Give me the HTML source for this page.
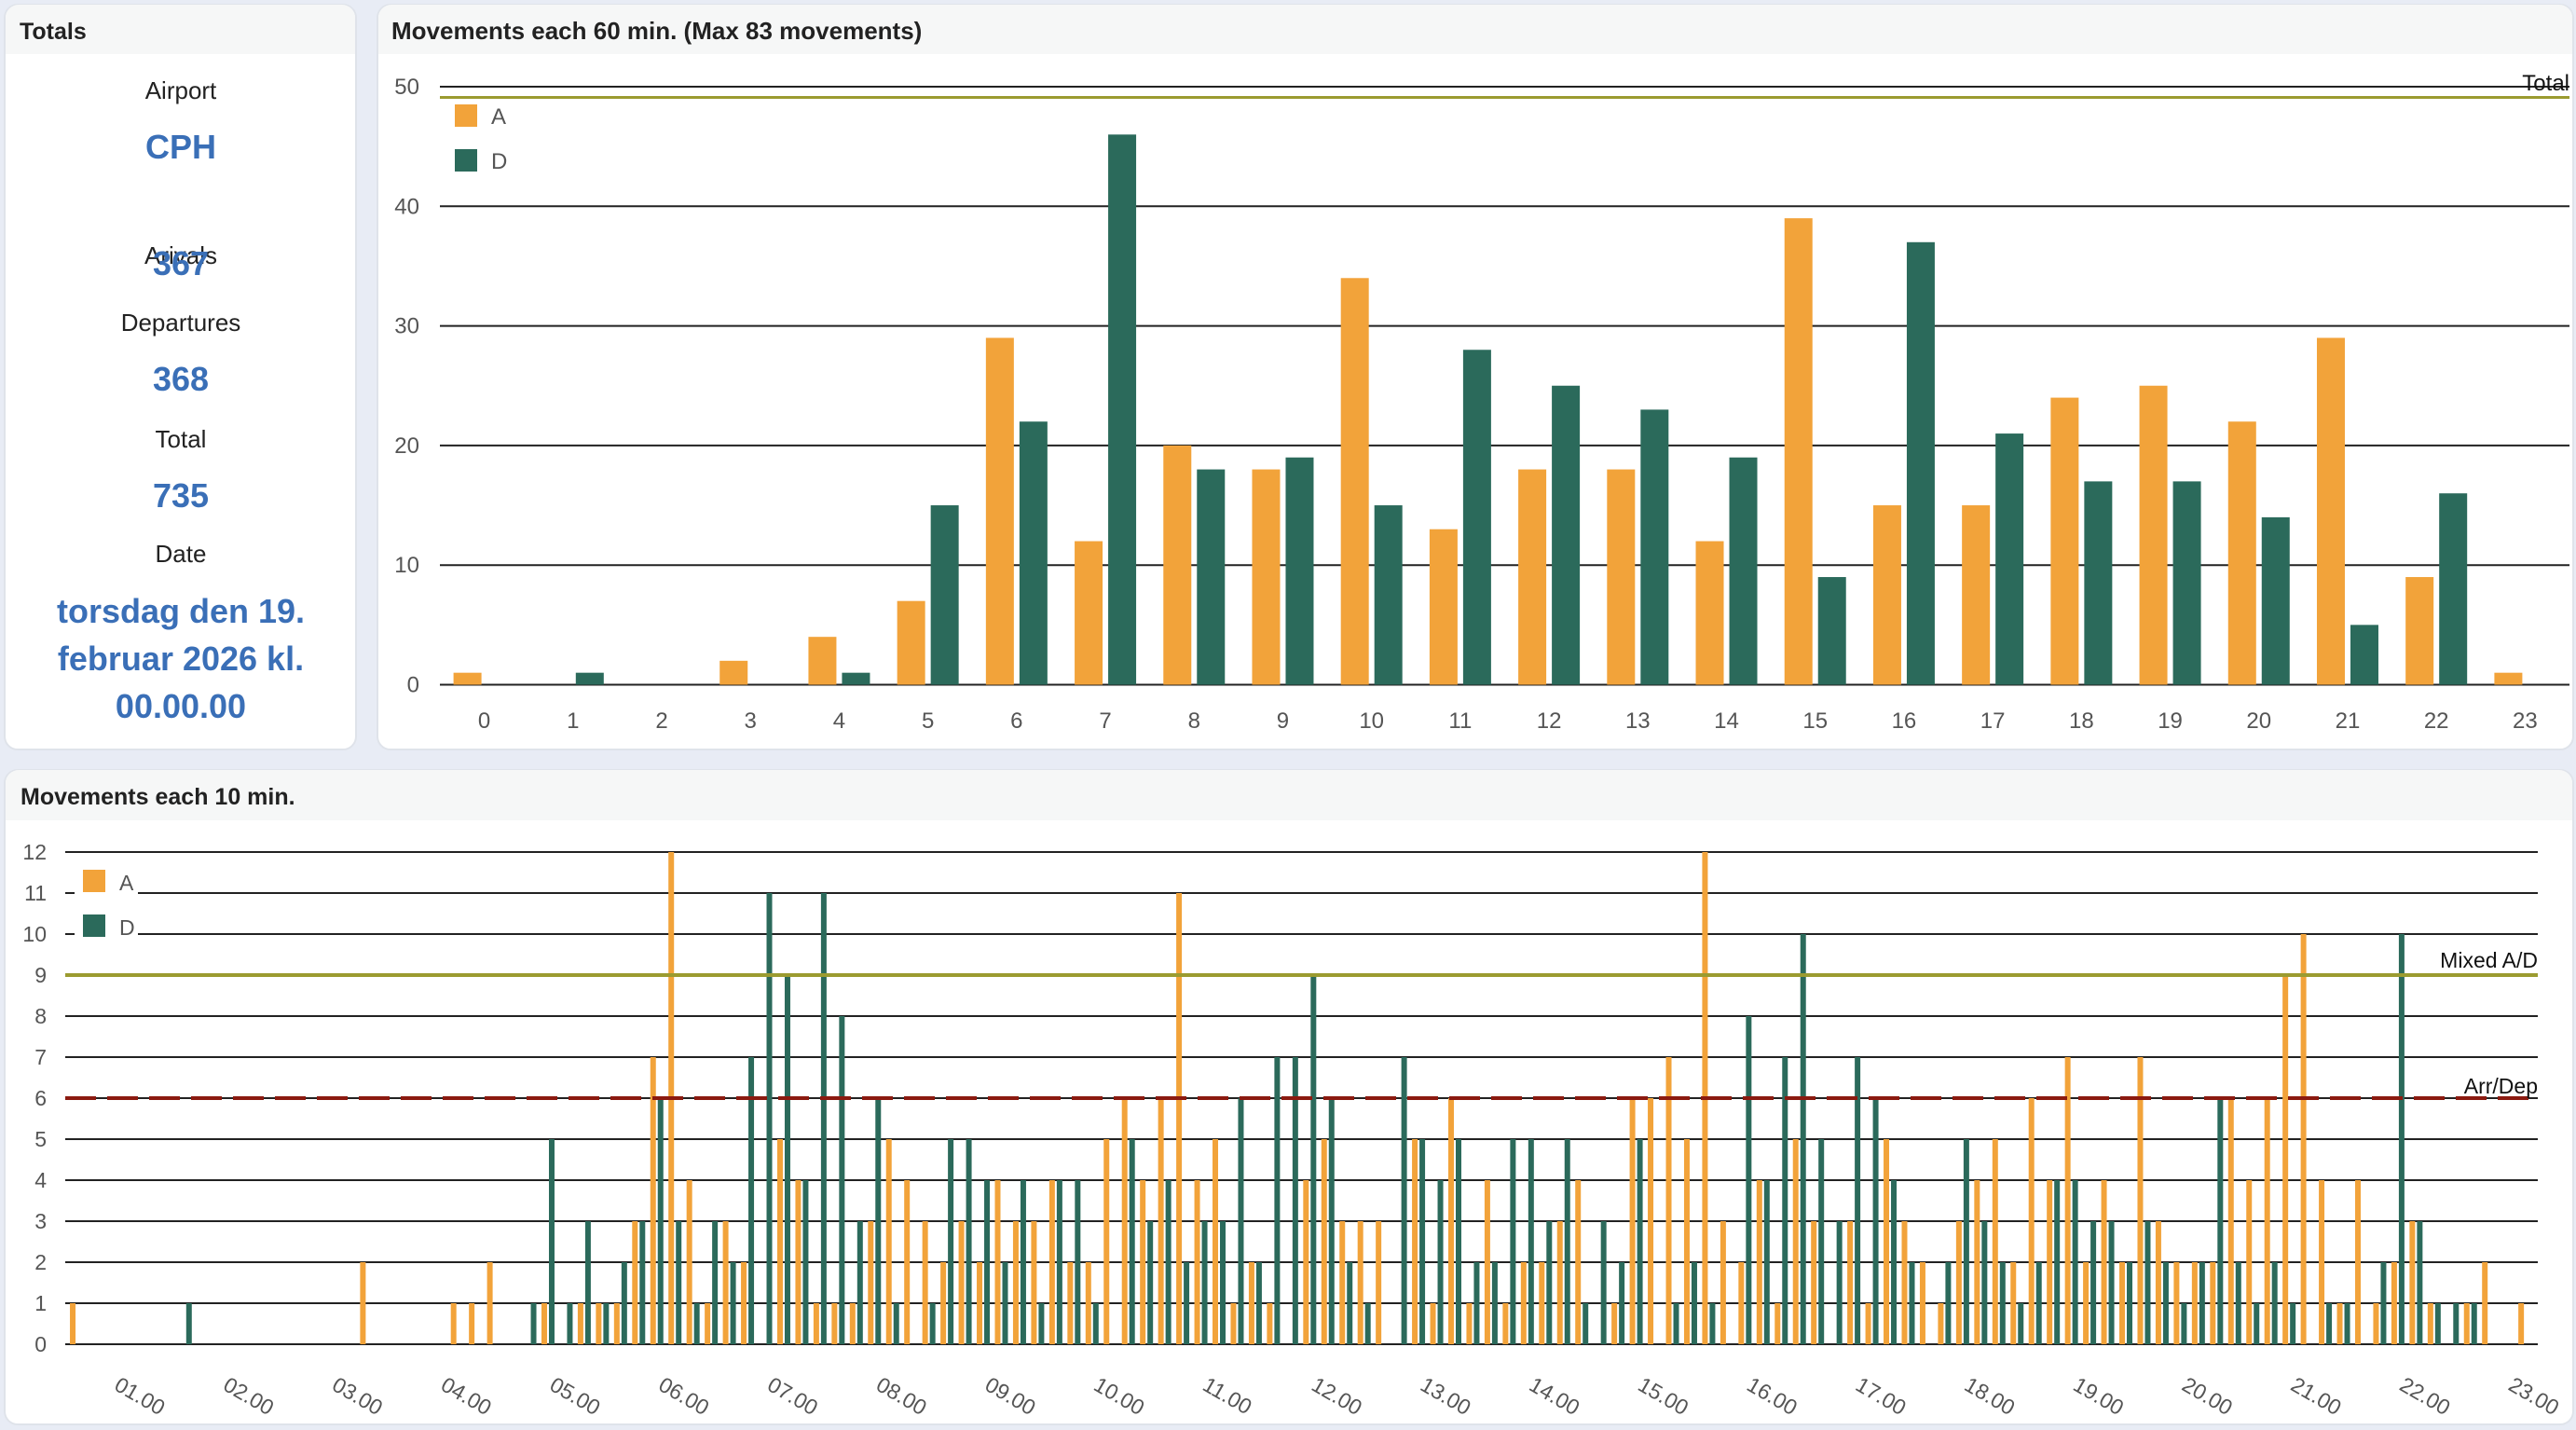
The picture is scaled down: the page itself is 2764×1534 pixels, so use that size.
<!DOCTYPE html>
<html><head><meta charset="utf-8">
<style>
html,body{margin:0;padding:0;background:#e8ecf5;}
svg{display:block;font-family:"Liberation Sans",Arial,sans-serif;}
</style></head>
<body>
<svg id="root" width="2764" height="1534" viewBox="0 0 2764 1534" xmlns="http://www.w3.org/2000/svg">
  <rect x="0" y="0" width="2764" height="1534" fill="#e8ecf5"/>

  <!-- Totals panel -->
  <g>
    <rect x="5" y="5" width="377" height="799" rx="14" fill="#ffffff" stroke="#dfe3ea" stroke-width="2"/>
    <path d="M6 58 V19 a14 14 0 0 1 14 -14 H367 a14 14 0 0 1 14 14 V58 Z" fill="#f6f7f7"/>
    <text x="21" y="42" font-size="25" font-weight="bold" fill="#222">Totals</text>
    <g text-anchor="middle" font-size="26" fill="#222">
      <text x="194" y="106">Airport</text>
      <text x="194" y="283">Arivals</text>
      <text x="194" y="355">Departures</text>
      <text x="194" y="480">Total</text>
      <text x="194" y="603">Date</text>
    </g>
    <g text-anchor="middle" font-size="36" font-weight="bold" fill="#3a6fb7">
      <text x="194" y="170">CPH</text>
      <text x="194" y="295">367</text>
      <text x="194" y="419">368</text>
      <text x="194" y="544">735</text>
      <text x="194" y="668">torsdag den 19.</text>
      <text x="194" y="719">februar 2026 kl.</text>
      <text x="194" y="770">00.00.00</text>
    </g>
  </g>

  <!-- Hourly panel -->
  <g>
    <rect x="405" y="5" width="2356" height="799" rx="14" fill="#ffffff" stroke="#dfe3ea" stroke-width="2"/>
    <path d="M406 58 V19 a14 14 0 0 1 14 -14 H2746 a14 14 0 0 1 14 14 V58 Z" fill="#f6f7f7"/>
    <text x="420" y="42" font-size="26" font-weight="bold" fill="#222">Movements each 60 min. (Max 83 movements)</text>
    <g id="hourly"></g>
  </g>

  <!-- 10-min panel -->
  <g>
    <rect x="5" y="826" width="2756" height="702" rx="14" fill="#ffffff" stroke="#dfe3ea" stroke-width="2"/>
    <path d="M6 880 V840 a14 14 0 0 1 14 -14 H2746 a14 14 0 0 1 14 14 V880 Z" fill="#f6f7f7"/>
    <text x="22" y="863" font-size="25" font-weight="bold" fill="#222">Movements each 10 min.</text>
    <g id="tenmin"></g>
  </g>
</svg>

<script>
// ===== Hourly chart data =====
const hourCategories = ["0","1","2","3","4","5","6","7","8","9","10","11","12","13","14","15","16","17","18","19","20","21","22","23"];
const hourArrivals = [1,0,0,2,4,7,29,12,20,18,34,13,18,18,12,39,15,15,24,25,22,29,9,1];
const hourDepartures = [0,1,0,0,1,15,22,46,18,19,15,28,25,23,19,9,37,21,17,17,14,5,16,0];
const hourTicks = [0,10,20,30,40,50];
const hourTotalLine = 49.1;

// ===== 10-min chart data =====
const tenArrivals = [
1,0,0,0,0,0,0,0,0,0,0,0,
0,0,0,0,2,0,0,0,0,1,1,2,
0,0,1,0,1,1,1,3,7,12,4,1,
3,2,0,5,4,1,1,1,3,5,4,3,
2,3,2,4,3,3,4,2,2,5,6,4,
6,11,4,5,1,2,1,0,4,5,3,3,
3,0,5,1,6,1,4,1,2,2,3,4,
0,1,6,6,7,5,12,3,2,4,1,5,
3,0,3,1,5,3,2,1,3,4,5,2,
6,4,7,2,4,2,7,3,2,2,2,6,
4,6,9,10,4,1,4,1,2,3,1,0,
1,2,0,1];
const tenDepartures = [
0,0,0,0,0,0,1,0,0,0,0,0,
0,0,0,0,0,0,0,0,0,0,0,0,
0,1,5,1,3,1,2,3,6,3,1,3,
2,7,11,9,4,11,8,3,6,1,0,1,
5,5,4,2,4,1,4,4,1,0,5,3,
4,2,3,3,6,2,7,7,9,6,2,1,
0,7,5,4,5,2,2,5,5,3,5,1,
3,2,5,0,1,2,1,0,8,4,7,10,
5,3,7,6,4,2,0,2,5,3,2,1,
2,4,4,3,3,2,3,2,1,2,6,2,
1,2,1,0,1,1,0,2,10,3,1,1,
1,0,0,0];
const tenTicks = [0,1,2,3,4,5,6,7,8,9,10,11,12];
const hourLabels = ["01.00","02.00","03.00","04.00","05.00","06.00","07.00","08.00","09.00","10.00","11.00","12.00","13.00","14.00","15.00","16.00","17.00","18.00","19.00","20.00","21.00","22.00","23.00"];
const mixedLimit = 9;
const arrDepLimit = 6;

const NS = "http://www.w3.org/2000/svg";
function mk(tag, attrs, parent){
  const e = document.createElementNS(NS, tag);
  for (const k in attrs) e.setAttribute(k, attrs[k]);
  parent.appendChild(e);
  return e;
}
const ORANGE = "#f2a33a", GREEN = "#2b6a5b";

// ===== Hourly chart =====
(function(){
  const g = document.getElementById("hourly");
  const left = 472, right = 2757, y0 = 734.5, y50 = 93;
  const yS = v => y0 - (y0 - y50) * v / 50;
  const band = (right - left) / hourCategories.length;
  const xC = i => left + band * (i + 0.5);
  hourTicks.forEach(t => {
    const l = mk("line", {x1:left, x2:right, y1:yS(t), y2:yS(t), stroke:"#222", "stroke-width":2}, g);
    
    
    const tx = mk("text", {x:450, y:yS(t)+8, "text-anchor":"end", "font-size":24, fill:"#555"}, g);
    tx.textContent = t;
    
    
  });
  hourCategories.forEach((c, i) => {
    const a = hourArrivals[i], d = hourDepartures[i];
    const ra = mk("rect", {x:xC(i)-33, y:yS(a), width:30, height:y0-yS(a), fill:ORANGE}, g);
    
    
    const rd = mk("rect", {x:xC(i)+3, y:yS(d), width:30, height:y0-yS(d), fill:GREEN}, g);
    
    
    const tx = mk("text", {x:xC(i), y:781, "text-anchor":"middle", "font-size":24, fill:"#555"}, g);
    tx.textContent = c;
    
    
  });
  const tl = mk("line", {x1:left, x2:right, y1:yS(hourTotalLine), y2:yS(hourTotalLine), stroke:"#9b9b30", "stroke-width":3}, g);
  
  
  const tt = mk("text", {x:right, y:97, "text-anchor":"end", "font-size":24, fill:"#111"}, g);
  tt.textContent = "Total";
  
  
  // legend
  const la = mk("rect", {x:488, y:112, width:24, height:24, fill:ORANGE}, g);
  
  
  const lat = mk("text", {x:527, y:133, "font-size":24, fill:"#555"}, g);
  lat.textContent = "A";
  
  
  const ld = mk("rect", {x:488, y:160, width:24, height:24, fill:GREEN}, g);
  
  
  const ldt = mk("text", {x:527, y:181, "font-size":24, fill:"#555"}, g);
  ldt.textContent = "D";
  
  
})();

// ===== 10-min chart =====
(function(){
  const g = document.getElementById("tenmin");
  const left = 70, right = 2723, y0 = 1442, y12 = 914;
  const cellStart = 72.3, slot = 19.46;
  const yS = v => y0 - (y0 - y12) * v / 12;
  const xA = j => cellStart + j * slot + slot / 2 - 4;
  const xD = j => cellStart + j * slot + slot / 2 + 4;
  tenTicks.forEach(t => {
    const l = mk("line", {x1:left, x2:right, y1:yS(t), y2:yS(t), stroke:"#222", "stroke-width":2}, g);
    
    
    const tx = mk("text", {x:50, y:yS(t)+8, "text-anchor":"end", "font-size":23, fill:"#555"}, g);
    tx.textContent = t;
    
    
  });
  // legend with white backing
  const lb = mk("rect", {x:80, y:926, width:68, height:86, fill:"#fff"}, g);
  
  
  const la = mk("rect", {x:89, y:933, width:24, height:24, fill:ORANGE}, g);
  
  
  const lat = mk("text", {x:128, y:955, "font-size":23, fill:"#555"}, g);
  lat.textContent = "A";
  
  
  const ld = mk("rect", {x:89, y:981, width:24, height:24, fill:GREEN}, g);
  
  
  const ldt = mk("text", {x:128, y:1003, "font-size":23, fill:"#555"}, g);
  ldt.textContent = "D";
  
  

  tenArrivals.forEach((v, j) => {
    if (v <= 0) return;
    const r = mk("rect", {x:xA(j)-3, y:yS(v), width:6, height:y0-yS(v), fill:ORANGE}, g);
    
    
  });
  tenDepartures.forEach((v, j) => {
    if (v <= 0) return;
    const r = mk("rect", {x:xD(j)-3, y:yS(v), width:6, height:y0-yS(v), fill:GREEN}, g);
    
    
  });
  const ml = mk("line", {x1:left, x2:right, y1:yS(mixedLimit), y2:yS(mixedLimit), stroke:"#9b9b30", "stroke-width":4}, g);
  
  
  const ad = mk("line", {x1:left, x2:right, y1:yS(arrDepLimit), y2:yS(arrDepLimit), stroke:"#8b1a10", "stroke-width":4, "stroke-dasharray":"33 12"}, g);
  
  
  const mt = mk("text", {x:right, y:yS(mixedLimit)-8, "text-anchor":"end", "font-size":23, fill:"#111"}, g);
  mt.textContent = "Mixed A/D";
  
  
  const at = mk("text", {x:right, y:yS(arrDepLimit)-5, "text-anchor":"end", "font-size":23, fill:"#111"}, g);
  at.textContent = "Arr/Dep";
  
  

  hourLabels.forEach((lab, h) => {
    const j = 2 + 6 * h;
    const x = cellStart + j * slot + 10, y = 1490;
    const t = mk("text", {x:x, y:y, "font-size":23, fill:"#555", transform:"rotate(30 " + x + " " + y + ")"}, g);
    t.textContent = lab;
    
    
  });
})();
</script>
</body></html>
